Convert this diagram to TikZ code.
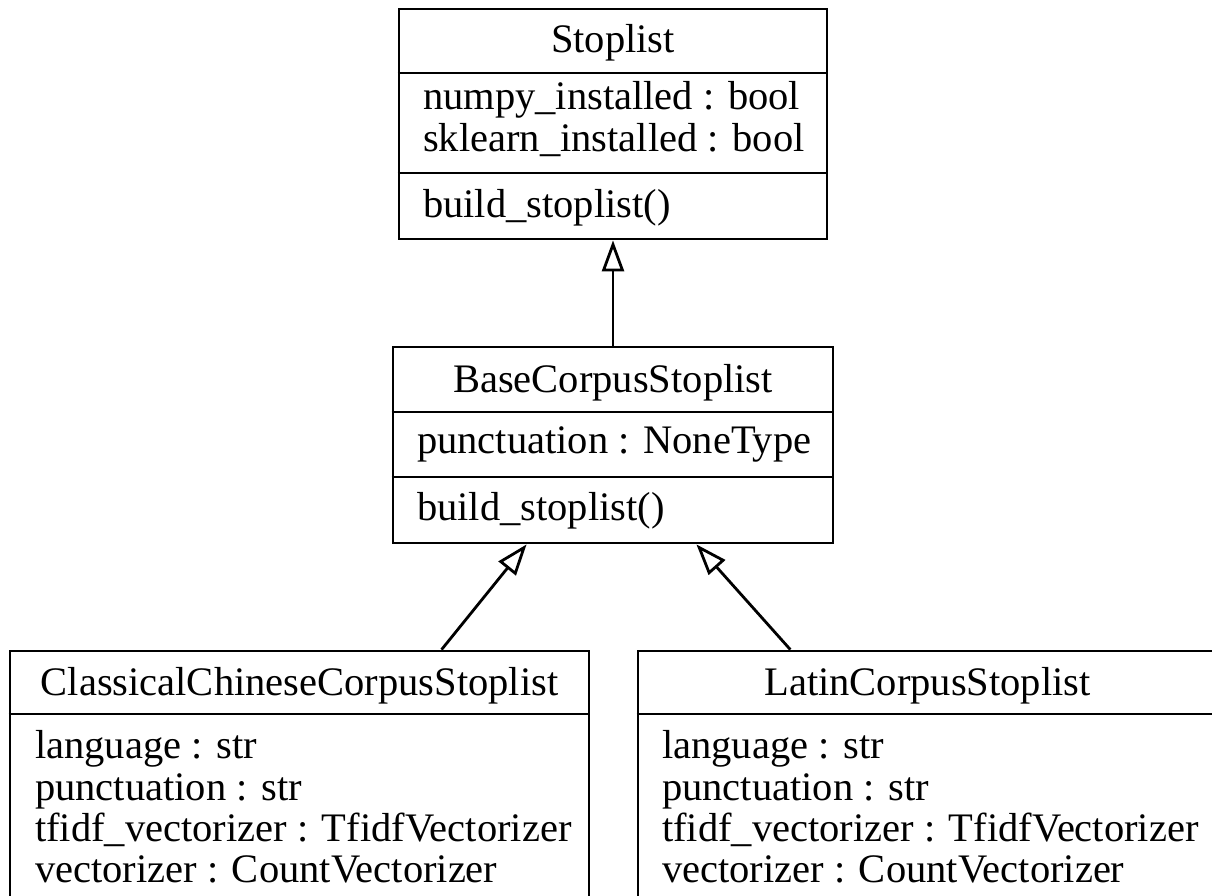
\documentclass[tikz,border=0pt]{standalone}
\usepackage{fontspec}
\setmainfont{Liberation Serif}
\usetikzlibrary{arrows.meta}
\begin{document}
\begin{tikzpicture}[x=1pt,y=-1pt,
  box/.style={draw, line width=2.8pt, rectangle, inner sep=0pt},
  txt/.style={inner sep=0pt, anchor=base west, font=\fontsize{40.5}{42}\selectfont},
  ttl/.style={inner sep=0pt, anchor=base, font=\fontsize{40.5}{42}\selectfont},
  divline/.style={line width=2.8pt},
  inh/.style={line width=2.8pt, -{Triangle[open,length=31pt,width=22pt]}}]
\useasboundingbox (0,0) rectangle (1212,896);
\clip (0,0) rectangle (1212,896);
% Stoplist
\node[box, minimum width=428pt, minimum height=230pt] (stop) at (613,124) {};
\draw[divline] (stop.west |- 0,73) -- (stop.east |- 0,73);
\draw[divline] (stop.west |- 0,173) -- (stop.east |- 0,173);
\node[ttl] (stopT) at (613,53) {Stoplist};
\node[txt] (stopA1) at (423,110) {numpy\_installed : bool};
\node[txt] (stopA2) at (423,152) {sklearn\_installed : bool};
\node[txt] (stopM1) at (423,217) {build\_stoplist()};
% BaseCorpusStoplist
\node[box, minimum width=440pt, minimum height=196pt] (base) at (613,445) {};
\draw[divline] (base.west |- 0,412) -- (base.east |- 0,412);
\draw[divline] (base.west |- 0,477) -- (base.east |- 0,477);
\node[ttl] (baseT) at (613,392) {BaseCorpusStoplist};
\node[txt] (baseA1) at (417,453) {punctuation : NoneType};
\node[txt] (baseM1) at (417,520) {build\_stoplist()};
% ClassicalChineseCorpusStoplist
\node[box, minimum width=579pt, minimum height=253pt] (cls) at (299.5,777.5) {};
\draw[divline] (cls.west |- 0,714) -- (cls.east |- 0,714);
\node[ttl] (clsT) at (299.5,695) {ClassicalChineseCorpusStoplist};
\node[txt] (clsA1) at (35,758) {language : str};
\node[txt] (clsA2) at (35,800) {punctuation : str};
\node[txt] (clsA3) at (35,841) {tfidf\_vectorizer : TfidfVectorizer};
\node[txt] (clsA4) at (35,882) {vectorizer : CountVectorizer};
% LatinCorpusStoplist
\node[box, minimum width=579pt, minimum height=253pt] (lat) at (927.5,777.5) {};
\draw[divline] (lat.west |- 0,714) -- (lat.east |- 0,714);
\node[ttl] (latT) at (927.5,695) {LatinCorpusStoplist};
\node[txt] (latA1) at (662,758) {language : str};
\node[txt] (latA2) at (662,800) {punctuation : str};
\node[txt] (latA3) at (662,841) {tfidf\_vectorizer : TfidfVectorizer};
\node[txt] (latA4) at (662,882) {vectorizer : CountVectorizer};
% inheritance
\draw[inh] (base.north) -- (stop.south);
\draw[inh] (cls.42.6) -- (base.229.7);
\draw[inh] (lat.137.6) -- (base.310.3);
\end{tikzpicture}
\end{document}
